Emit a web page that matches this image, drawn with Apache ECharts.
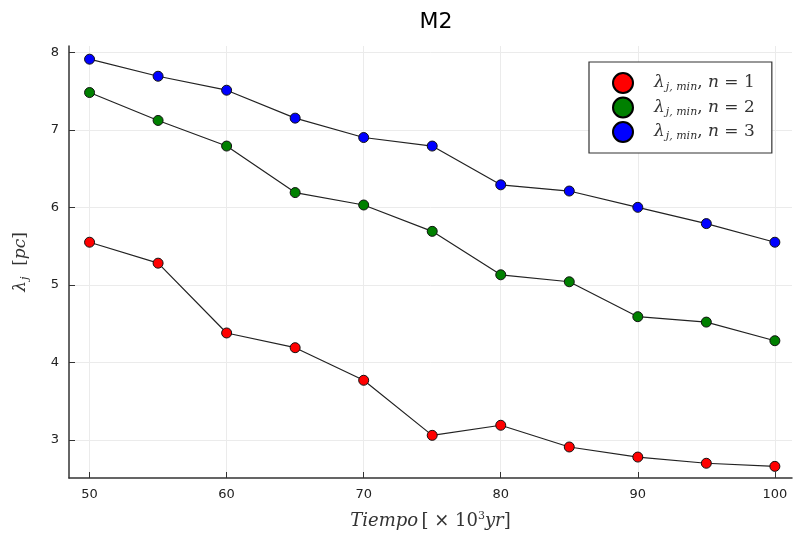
<!DOCTYPE html>
<html><head><meta charset="utf-8">
<script src="https://cdn.jsdelivr.net/npm/echarts@6/dist/echarts.min.js"></script>
<style>html,body{margin:0;padding:0;background:#fff}#c{width:793px;height:536px}</style>
</head><body><div id="c"></div>
<script>
const tiempo = [50, 55, 60, 65, 70, 75, 80, 85, 90, 95, 100];
const n1 = [5.55, 5.28, 4.38, 4.19, 3.77, 3.06, 3.19, 2.91, 2.78, 2.70, 2.66];
const n2 = [7.48, 7.12, 6.79, 6.19, 6.03, 5.69, 5.13, 5.04, 4.59, 4.52, 4.28];
const n3 = [7.91, 7.69, 7.51, 7.15, 6.90, 6.79, 6.29, 6.21, 6.00, 5.79, 5.55];
const seriesNames = ['n1', 'n2', 'n3'];
const seriesLabels = ['1', '2', '3'];
const colors = ['#ff0000', '#008000', '#0000ff'];
const xTicks = [50, 60, 70, 80, 90, 100];
const yTicks = [3, 4, 5, 6, 7, 8];

const chart = echarts.init(document.getElementById('c'));
const serif = 'DejaVu Serif';
const mk = (name, data, color) => ({
  name, type: 'line',
  data: tiempo.map((t, i) => [t, data[i]]),
  lineStyle: { color: '#222', width: 1.2 },
  itemStyle: { color, borderColor: '#111', borderWidth: 1 },
  symbol: 'circle', symbolSize: 10, z: 3
});
chart.setOption({
  animation: false,
  title: { text: 'M2', left: 431, textAlign: 'center', top: 6,
    textStyle: { fontFamily: 'DejaVu Sans', fontWeight: 'normal', fontSize: 22, color: '#000' } },
  grid: { left: 69, right: 1, top: 46, bottom: 58 },
  legend: {
    orient: 'vertical', left: 589, top: 62,
    backgroundColor: '#fff', borderColor: '#333', borderWidth: 1.2,
    padding: [10, 17, 10, 23], itemGap: 2.5, itemWidth: 20, itemHeight: 20,
    icon: 'circle',
    itemStyle: { borderColor: '#000', borderWidth: 2 },
    formatter: function (name) {
      const i = seriesNames.indexOf(name);
      return '{l|λ}{s|j, min}{r|, }{l|n}{r| = ' + seriesLabels[i] + '}';
    },
    textStyle: {
      padding: [0, 0, 0, 16], lineHeight: 20,
      rich: {
        l: { fontFamily: serif, fontStyle: 'italic', fontSize: 17, color: '#333', lineHeight: 20 },
        r: { fontFamily: serif, fontSize: 17, color: '#333', lineHeight: 20 },
        s: { fontFamily: serif, fontStyle: 'italic', fontSize: 11, color: '#333', lineHeight: 20, verticalAlign: 'bottom', padding: [9, 0, 0, 1] }
      }
    },
    data: seriesNames
  },
  xAxis: {
    type: 'value', min: 48.5, max: 101.25,
    customValues: xTicks,
    axisLine: { lineStyle: { color: '#333', width: 1.5 } },
    axisTick: { inside: true, length: 6, lineStyle: { color: '#333' }, customValues: xTicks },
    axisLabel: { fontFamily: 'DejaVu Sans', fontSize: 13, color: '#222', margin: 10, customValues: xTicks,
      showMinLabel: true, showMaxLabel: true },
    splitLine: { show: true, lineStyle: { color: '#ebebeb', width: 1 } },
    name: '{i|Tiempo} {r|[ × 10}{sup|3}{i|yr}{r|]}', nameLocation: 'middle', nameGap: 33,
    nameTextStyle: { padding: [0, 0, 0, 0], rich: {
      i: { fontFamily: serif, fontStyle: 'italic', fontSize: 18, color: '#333' },
      r: { fontFamily: serif, fontSize: 18, color: '#333' },
      sup: { fontFamily: serif, fontSize: 11, color: '#333', verticalAlign: 'top', padding: [0, 0, 9, 0] }
    } }
  },
  yAxis: {
    type: 'value', min: 2.51, max: 8.08,
    customValues: yTicks,
    axisLine: { show: true, lineStyle: { color: '#333', width: 1.5 } },
    axisTick: { show: true, inside: true, length: 6, lineStyle: { color: '#333' }, customValues: yTicks },
    axisLabel: { fontFamily: 'DejaVu Sans', fontSize: 13, color: '#222', margin: 10, customValues: yTicks },
    splitLine: { show: true, lineStyle: { color: '#ebebeb', width: 1 } },
    name: '{i|λ}{sub|j}{r|  [}{i|pc}{r|]}', nameLocation: 'middle', nameGap: 38, nameRotate: 90,
    nameTextStyle: { rich: {
      i: { fontFamily: serif, fontStyle: 'italic', fontSize: 17, color: '#333' },
      r: { fontFamily: serif, fontSize: 17, color: '#333' },
      sub: { fontFamily: serif, fontStyle: 'italic', fontSize: 11, color: '#333', verticalAlign: 'bottom', padding: [9, 0, 0, 1] }
    } }
  },
  series: [mk('n1', n1, colors[0]), mk('n2', n2, colors[1]), mk('n3', n3, colors[2])]
});
</script></body></html>
